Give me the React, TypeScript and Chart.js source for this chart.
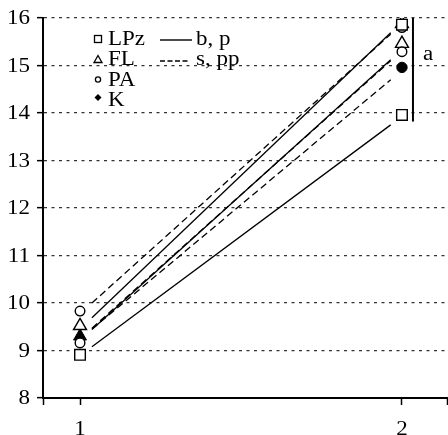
import React, { useEffect, useRef } from "react";
import { Chart, registerables } from "chart.js";

Chart.register(...registerables);

// ---- data ----
const xTickValues = [1, 2];
const yTickValues = [8, 9, 10, 11, 12, 13, 14, 15, 16];
const lineX = [1.037, 1.965];
const solidStart = [9.69, 9.44, 9.08];
const solidEnd = [15.69, 15.12, 13.75];
const dashedStart = [10.0, 9.47, 9.45];
const dashedEnd = [15.66, 15.1, 14.7];

const lpzX = [1, 2, 2];
const lpzY = [8.91, 13.96, 15.86];
const flX = [1, 2, 2];
const flY = [9.52, 15.46, 15.88];
const paX = [1, 1, 2, 2];
const paY = [9.83, 9.16, 15.29, 15.8];
const kX = [1, 2];
const kY = [9.3, 14.96];

const markerLabels = ["LPz", "FL", "PA", "K"];
const lineLabels = ["b, p", "s, pp"];
const bracketLabel = "a";
const bracketRange = [16, 13.82];

const FAMILY = '"Liberation Serif", "Times New Roman", serif';
const SX = 1.15;

function drawText(
  ctx: CanvasRenderingContext2D,
  text: string,
  x: number,
  y: number,
  align: CanvasTextAlign = "left",
  baseline: CanvasTextBaseline = "alphabetic"
) {
  ctx.save();
  ctx.translate(x, y);
  ctx.scale(SX, 1);
  ctx.textAlign = align;
  ctx.textBaseline = baseline;
  ctx.fillText(text, 0, 0);
  ctx.restore();
}

const overlayPlugin = {
  id: "overlay",
  afterDraw(chart: any) {
    const ctx: CanvasRenderingContext2D = chart.ctx;
    const xs = chart.scales.x;
    const ys = chart.scales.y;
    ctx.save();
    ctx.fillStyle = "#000";
    ctx.strokeStyle = "#000";
    ctx.font = `20px ${FAMILY}`;

    // tick labels
    yTickValues.forEach((v) => drawText(ctx, String(v), 30, ys.getPixelForValue(v) + 1, "right", "middle"));
    xTickValues.forEach((v) => drawText(ctx, String(v), xs.getPixelForValue(v), 435, "center", "alphabetic"));

    // marker legend
    const mx = 98;
    const baselines = [45, 65, 86, 106];
    ctx.lineWidth = 1.3;
    ctx.fillStyle = "#fff";
    ctx.fillRect(mx - 3.5, 35.5, 7, 7);
    ctx.strokeRect(mx - 3.5, 35.5, 7, 7);
    ctx.beginPath();
    ctx.moveTo(mx, 55.5);
    ctx.lineTo(mx + 4, 62.5);
    ctx.lineTo(mx - 4, 62.5);
    ctx.closePath();
    ctx.fill();
    ctx.stroke();
    ctx.beginPath();
    ctx.arc(mx, 79.5, 2.6, 0, Math.PI * 2);
    ctx.fill();
    ctx.stroke();
    ctx.fillStyle = "#000";
    ctx.beginPath();
    ctx.moveTo(mx, 94);
    ctx.lineTo(mx + 3.5, 97.5);
    ctx.lineTo(mx, 101);
    ctx.lineTo(mx - 3.5, 97.5);
    ctx.closePath();
    ctx.fill();

    markerLabels.forEach((t, i) => drawText(ctx, t, 108, baselines[i]));

    // line legend
    ctx.lineWidth = 1.4;
    ctx.beginPath();
    ctx.moveTo(160, 40);
    ctx.lineTo(192, 40);
    ctx.stroke();
    ctx.setLineDash([5, 2.5]);
    ctx.beginPath();
    ctx.moveTo(160, 61);
    ctx.lineTo(189, 61);
    ctx.stroke();
    ctx.setLineDash([]);
    drawText(ctx, lineLabels[0], 196, 45);
    drawText(ctx, lineLabels[1], 196, 65);

    // bracket
    const bx = xs.getPixelForValue(2) + 11;
    ctx.lineWidth = 2;
    ctx.beginPath();
    ctx.moveTo(bx, ys.getPixelForValue(bracketRange[0]));
    ctx.lineTo(bx, ys.getPixelForValue(bracketRange[1]));
    ctx.stroke();
    drawText(ctx, bracketLabel, bx + 10, 60);
    ctx.restore();
  },
};

export default function App() {
  const ref = useRef<HTMLCanvasElement>(null);
  useEffect(() => {
    document.body.style.margin = "0";
    const canvas = ref.current!;
    const pts = (xs: number[], ys: number[]) => xs.map((x, i) => ({ x, y: ys[i] }));

    const lineSets: any[] = [];
    solidStart.forEach((s, i) => {
      lineSets.push({
        type: "line",
        label: "solid" + i,
        data: pts(lineX, [s, solidEnd[i]]),
        borderColor: "#000",
        borderWidth: 1.3,
        pointRadius: 0,
        showLine: true,
        fill: false,
      });
    });
    dashedStart.forEach((s, i) => {
      lineSets.push({
        type: "line",
        label: "dashed" + i,
        data: pts(lineX, [s, dashedEnd[i]]),
        borderColor: "#000",
        borderWidth: 1.3,
        borderDash: [7, 4],
        pointRadius: 0,
        showLine: true,
        fill: false,
      });
    });

    const chart = new Chart(canvas, {
      type: "scatter",
      data: {
        datasets: [
          {
            label: "LPz",
            data: pts(lpzX, lpzY),
            pointStyle: "rect",
            pointRadius: 7.5,
            backgroundColor: "#fff",
            borderColor: "#000",
            borderWidth: 1.4,
          },
          {
            label: "PA",
            data: pts(paX, paY),
            pointStyle: "circle",
            pointRadius: 4.8,
            backgroundColor: "#fff",
            borderColor: "#000",
            borderWidth: 1.4,
          },
          {
            label: "FL",
            data: pts(flX, flY),
            pointStyle: "triangle",
            pointRadius: 7.5,
            backgroundColor: "#fff",
            borderColor: "#000",
            borderWidth: 1.4,
          },
          {
            label: "K",
            data: pts(kX, kY),
            pointStyle: ["triangle", "circle"],
            pointRadius: [7.5, 5.2],
            backgroundColor: "#000",
            borderColor: "#000",
            borderWidth: 1,
          },
          ...lineSets,
        ] as any,
      },
      options: {
        animation: false,
        responsive: false,
        maintainAspectRatio: false,
        devicePixelRatio: 1,
        layout: { autoPadding: false, padding: { top: 18, right: 0, left: 0, bottom: 0 } },
        plugins: { legend: { display: false }, tooltip: { enabled: false } },
        scales: {
          x: {
            type: "linear",
            min: 0.885,
            max: 2.143,
            afterBuildTicks: (s: any) => {
              s.ticks = [0.885, 1, 2, 2.14].map((v) => ({ value: v }));
            },
            afterFit: (s: any) => {
              s.height = 37;
            },
            ticks: { display: false },
            grid: {
              drawOnChartArea: false,
              drawTicks: true,
              tickLength: 7,
              tickColor: "#000",
              tickWidth: 1.5,
              tickBorderDash: [],
            },
            border: { color: "#000", width: 2 },
          },
          y: {
            type: "linear",
            min: 8,
            max: 16,
            afterBuildTicks: (s: any) => {
              s.ticks = yTickValues.map((v) => ({ value: v }));
            },
            afterFit: (s: any) => {
              s.width = 43;
            },
            ticks: { display: false },
            grid: {
              color: "#333",
              lineWidth: 1.3,
              tickLength: 6,
              tickColor: "#000",
              tickWidth: 1.5,
              tickBorderDash: [],
            },
            border: { color: "#000", width: 2, dash: [3, 4.5] },
          },
        },
      } as any,
      plugins: [overlayPlugin],
    });
    return () => chart.destroy();
  }, []);
  return (
    <div style={{ position: "relative", width: 448, height: 435, background: "#fff" }}>
      <canvas ref={ref} width={448} height={435} style={{ width: 448, height: 435, display: "block" }} />
    </div>
  );
}
